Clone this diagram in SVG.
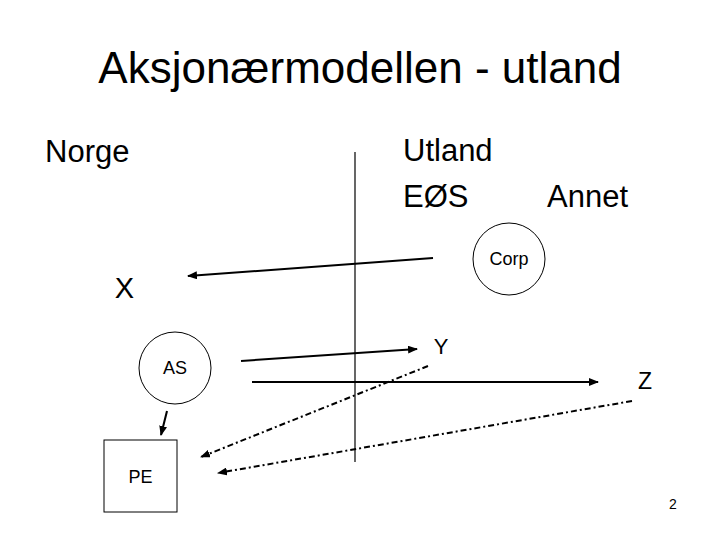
<svg xmlns="http://www.w3.org/2000/svg" width="720" height="540" viewBox="0 0 720 540">
<style>
text{font-family:"Liberation Sans",Arial,sans-serif;fill:#000}
.t{font-size:44px}
.h{font-size:31px}
.s{font-size:18px}
.node{fill:#fff;stroke:#000;stroke-width:1}
.c{stroke:#000;stroke-width:2;fill:none}
.d{stroke:#000;stroke-width:2;fill:none;stroke-dasharray:6 3 2 3}
</style>
<defs>
<marker id="ah" viewBox="0 0 10 8" refX="9" refY="4" markerWidth="10" markerHeight="8" markerUnits="userSpaceOnUse" orient="auto">
<path d="M0,0 L10,4 L0,8 Z" fill="#000"/>
</marker>
</defs>
<rect width="720" height="540" fill="#fff"/>
<text class="t" x="360" y="83" text-anchor="middle">Aksjonærmodellen - utland</text>
<text class="h" x="45" y="162">Norge</text>
<text class="h" x="403" y="161">Utland</text>
<text class="h" x="403" y="207">EØS</text>
<text class="h" x="547" y="207">Annet</text>
<line x1="355" y1="152" x2="355" y2="462" stroke="#000" stroke-width="1.2"/>
<g id="corp"><circle class="node" cx="509" cy="259" r="36"/><text class="s" x="509" y="265" text-anchor="middle">Corp</text></g>
<g id="x"><text x="124.5" y="298" font-size="29" text-anchor="middle">X</text></g>
<g id="as"><circle class="node" cx="175" cy="368" r="36"/><text class="s" x="175" y="374" text-anchor="middle">AS</text></g>
<g id="pe"><rect class="node" x="104" y="440" width="73" height="72"/><text class="s" x="140.5" y="483" text-anchor="middle">PE</text></g>
<g id="y"><text x="441" y="354" font-size="22" text-anchor="middle">Y</text></g>
<g id="z"><text x="645" y="389" font-size="23" text-anchor="middle">Z</text></g>
<g id="connectors">
<line class="c" x1="433" y1="258" x2="188" y2="276" marker-end="url(#ah)"/>
<line class="c" x1="167" y1="411" x2="161" y2="435" marker-end="url(#ah)"/>
<line class="c" x1="241" y1="361" x2="417" y2="349" marker-end="url(#ah)"/>
<line class="c" x1="252" y1="382" x2="598" y2="382" marker-end="url(#ah)"/>
<line class="d" x1="428" y1="366" x2="201" y2="457" marker-end="url(#ah)"/>
<line class="d" x1="632" y1="401" x2="218" y2="473" marker-end="url(#ah)"/>
</g>
<text x="673" y="509" font-size="14" text-anchor="middle">2</text>
</svg>
